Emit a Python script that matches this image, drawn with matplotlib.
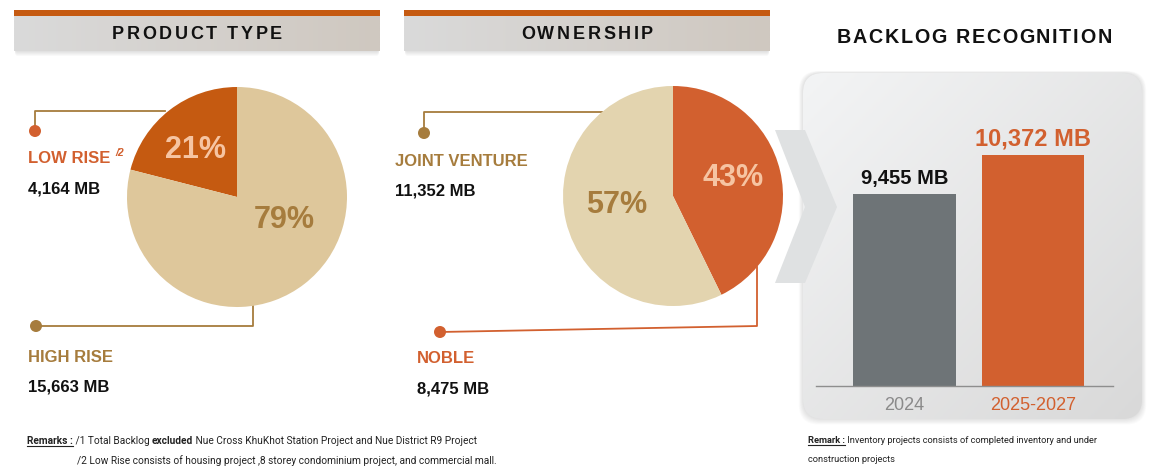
import numpy as np
import matplotlib.pyplot as plt
from matplotlib.patches import FancyBboxPatch, Rectangle, Polygon, Circle
from matplotlib.colors import LinearSegmentedColormap
from matplotlib.font_manager import FontProperties

# ---------- data ----------
product_labels = ["LOW RISE", "HIGH RISE"]
product_values = [4164, 15663]          # MB
product_pct = ["21%", "79%"]

owner_labels = ["NOBLE", "JOINT VENTURE"]
owner_values = [8475, 11352]            # MB
owner_pct = ["43%", "57%"]

backlog_periods = ["2024", "2025-2027"]
backlog_values = [9455, 10372]          # MB

# ---------- colours ----------
DARK_ORANGE = "#C55A11"
ORANGE = "#D2602F"
TAN = "#DEC79B"
TAN_LIGHT = "#E3D4AF"
BROWN = "#A67C3D"
PEACH = "#F6C4A2"
BAR_GRAY = "#6E7477"
FONT = "Liberation Sans"

W, H = 1152, 469
fig = plt.figure(figsize=(W / 100, H / 100), dpi=100)
bg = fig.add_axes([0, 0, 1, 1])
bg.axis("off")
renderer = fig.canvas.get_renderer()


def px_axes(x0, y0, x1, y1):
    return fig.add_axes([x0 / W, 1 - y1 / H, (x1 - x0) / W, (y1 - y0) / H])


def text_w(s, size, weight="normal", family=FONT, style="normal"):
    fp = FontProperties(family=family, size=size, weight=weight, style=style)
    w1 = renderer.get_text_width_height_descent("X" + s + "X", fp, ismath=False)[0]
    w0 = renderer.get_text_width_height_descent("XX", fp, ismath=False)[0]
    return w1 - w0


def tracked(cx, base, s, size, track, color="#111111"):
    ws = [text_w(ch, size, "bold") for ch in s]
    x = cx - (sum(ws) + track * (len(s) - 1)) / 2
    for ch, w in zip(s, ws):
        bg.text(x, base, ch, ha="left", va="baseline", fontsize=size,
                weight="bold", family=FONT, color=color, zorder=5)
        x += w + track


def seq(x, base, parts, size, family="Roboto", color="#222222", underline_first=False):
    x0 = x
    for i, (s, weight) in enumerate(parts):
        bg.text(x, base, s, ha="left", va="baseline", fontsize=size,
                weight=weight, family=family, color=color, zorder=5)
        w = text_w(s, size, weight, family)
        if i == 0 and underline_first:
            bg.plot([x0, x0 + w], [base + 2, base + 2], color=color, lw=0.8, zorder=5)
        x += w


def grad_box(x0, y0, x1, y1, c0, c1, radius=0, diag=False, z=1):
    style = f"round,pad=0,rounding_size={radius}" if radius else "square,pad=0"
    patch = FancyBboxPatch((x0, y0), x1 - x0, y1 - y0, boxstyle=style,
                           fc="none", ec="none", zorder=z)
    bg.add_patch(patch)
    cmap = LinearSegmentedColormap.from_list("g", [c0, c1])
    X, Y = np.meshgrid(np.linspace(0, 1, 200), np.linspace(0, 1, 100))
    Z = (X + Y) / 2 if diag else X
    im = bg.imshow(Z, cmap=cmap, extent=(x0, x1, y1, y0), aspect="auto",
                   zorder=z, interpolation="bilinear")
    im.set_clip_path(patch)


# ---------- header boxes ----------
for x0, x1, title in [(14, 380, "PRODUCT TYPE"), (404, 770, "OWNERSHIP")]:
    for i in range(6):
        bg.add_patch(FancyBboxPatch((x0 + 1, 16 + i), x1 - x0 - 2, 35,
                                    boxstyle="round,pad=0,rounding_size=3",
                                    fc="#000000", ec="none", alpha=0.025, zorder=0.5))
    grad_box(x0, 16, x1, 51, "#DADADA", "#CFC8C0", z=1)
    bg.add_patch(Rectangle((x0, 10), x1 - x0, 6, fc=DARK_ORANGE, ec="none", zorder=2))
    tracked((x0 + x1) / 2, 39, title, 13, 2.6)

tracked(974, 43, "BACKLOG RECOGNITION", 14.2, 1.7)

# ---------- backlog panel ----------
for i in range(8):
    bg.add_patch(FancyBboxPatch((803 - i * 0.6, 73 - i * 0.3), 339 + i * 1.2, 346 + i * 1.1,
                                boxstyle="round,pad=0,rounding_size=20",
                                fc="#000000", ec="none", alpha=0.015, zorder=0.5))
grad_box(803, 73, 1142, 419, "#F3F4F5", "#D9D9D9", radius=20, diag=True, z=1)
bg.add_patch(Polygon([(775, 130), (805, 130), (837, 207), (805, 283), (775, 283), (805, 207)],
                     closed=True, fc="#DFE1E2", ec="none", zorder=2))

# ---------- connectors ----------
lw = 1.3
bg.plot([35, 35, 165], [131, 111, 111], color=BROWN, lw=lw, zorder=3)
bg.add_patch(Circle((35, 131), 6, fc=ORANGE, ec="none", zorder=4))
bg.plot([36, 253, 253], [326, 326, 306], color=BROWN, lw=lw, zorder=3)
bg.add_patch(Circle((36, 326), 6, fc=BROWN, ec="none", zorder=4))
bg.plot([424, 424, 602], [133, 112, 112], color=BROWN, lw=lw, zorder=3)
bg.add_patch(Circle((424, 133), 6, fc=BROWN, ec="none", zorder=4))
bg.plot([440, 757, 757], [332, 326, 267], color=ORANGE, lw=lw, zorder=3)
bg.add_patch(Circle((440, 332), 6, fc=ORANGE, ec="none", zorder=4))

# ---------- labels beside pies ----------
def label(x, base, name, value, color):
    bg.text(x, base, name, ha="left", va="baseline", fontsize=12, weight="bold",
            family=FONT, color=color, zorder=5)
    bg.text(x, base + 30, f"{value:,} MB", ha="left", va="baseline", fontsize=12,
            weight="bold", family=FONT, color="#111111", zorder=5)

label(28, 163, product_labels[0], product_values[0], ORANGE)
bg.text(28 + text_w(product_labels[0] + " ", 12, "bold"), 156, "/2", ha="left",
        va="baseline", fontsize=7.5, style="italic", weight="bold", family=FONT,
        color=ORANGE, zorder=5)
label(28, 362, product_labels[1], product_values[1], BROWN)
label(395, 166, owner_labels[1], owner_values[1], BROWN)
label(417, 363, owner_labels[0], owner_values[0], ORANGE)

# ---------- pies ----------
ax1 = px_axes(127, 87, 347, 307)
ax1.pie(product_values, colors=[DARK_ORANGE, TAN], startangle=90, counterclock=True,
        wedgeprops=dict(linewidth=0))
ax1.set_xlim(-1, 1)
ax1.set_ylim(-1, 1)
ax1.text(-0.38, 0.43, product_pct[0], ha="center", va="center", fontsize=22,
         weight="bold", family=FONT, color=PEACH)
ax1.text(0.43, -0.21, product_pct[1], ha="center", va="center", fontsize=22,
         weight="bold", family=FONT, color=BROWN)

ax2 = px_axes(563, 86, 783, 306)
ax2.pie(owner_values, colors=[ORANGE, TAN_LIGHT], startangle=90, counterclock=False,
        wedgeprops=dict(linewidth=0))
ax2.set_xlim(-1, 1)
ax2.set_ylim(-1, 1)
ax2.text(0.55, 0.16, owner_pct[0], ha="center", va="center", fontsize=22,
         weight="bold", family=FONT, color=PEACH)
ax2.text(-0.51, -0.08, owner_pct[1], ha="center", va="center", fontsize=22,
         weight="bold", family=FONT, color=BROWN)

# ---------- backlog bars ----------
ax3 = px_axes(816, 100, 1113, 386)
ax3.patch.set_alpha(0)
x = np.arange(len(backlog_values))
ax3.bar(x, backlog_values, width=0.8, color=[BAR_GRAY, ORANGE])
ax3.set_xlim(-0.689, 1.622)
ax3.set_ylim(4940, 11665)
for s in ["top", "right", "left"]:
    ax3.spines[s].set_visible(False)
ax3.spines["bottom"].set_color("#8E8E8E")
ax3.spines["bottom"].set_linewidth(1)
ax3.set_yticks([])
ax3.set_xticks(x)
ax3.set_xticklabels(backlog_periods, fontsize=13, family=FONT)
ax3.tick_params(axis="x", length=0, pad=8)
for t, c in zip(ax3.get_xticklabels(), ["#8A8A8A", ORANGE]):
    t.set_color(c)
for i, (v, c, fs) in enumerate(zip(backlog_values, ["#111111", ORANGE], [14.5, 17])):
    ax3.annotate(f"{v:,} MB", (i, v), xytext=(0, 7), textcoords="offset points",
                 ha="center", va="baseline", fontsize=fs, weight="bold",
                 family=FONT, color=c)

# ---------- remarks ----------
seq(27, 444, [("Remarks :", "bold"), (" /1 Total Backlog ", "normal"), ("excluded", "bold"),
              (" Nue Cross KhuKhot Station Project and Nue District R9 Project", "normal")],
    7.3, underline_first=True)
seq(77, 464, [("/2 Low Rise consists of housing project ,8 storey condominium project, "
               "and commercial mall.", "normal")], 7.3)
seq(808, 443, [("Remark :", "bold"),
               (" Inventory projects consists of completed inventory and under", "normal")],
    6.65, underline_first=True)
seq(808, 462, [("construction projects", "normal")], 6.65)

bg.set_xlim(0, W)
bg.set_ylim(H, 0)

fig.savefig("out.png", dpi=100, facecolor="white")
